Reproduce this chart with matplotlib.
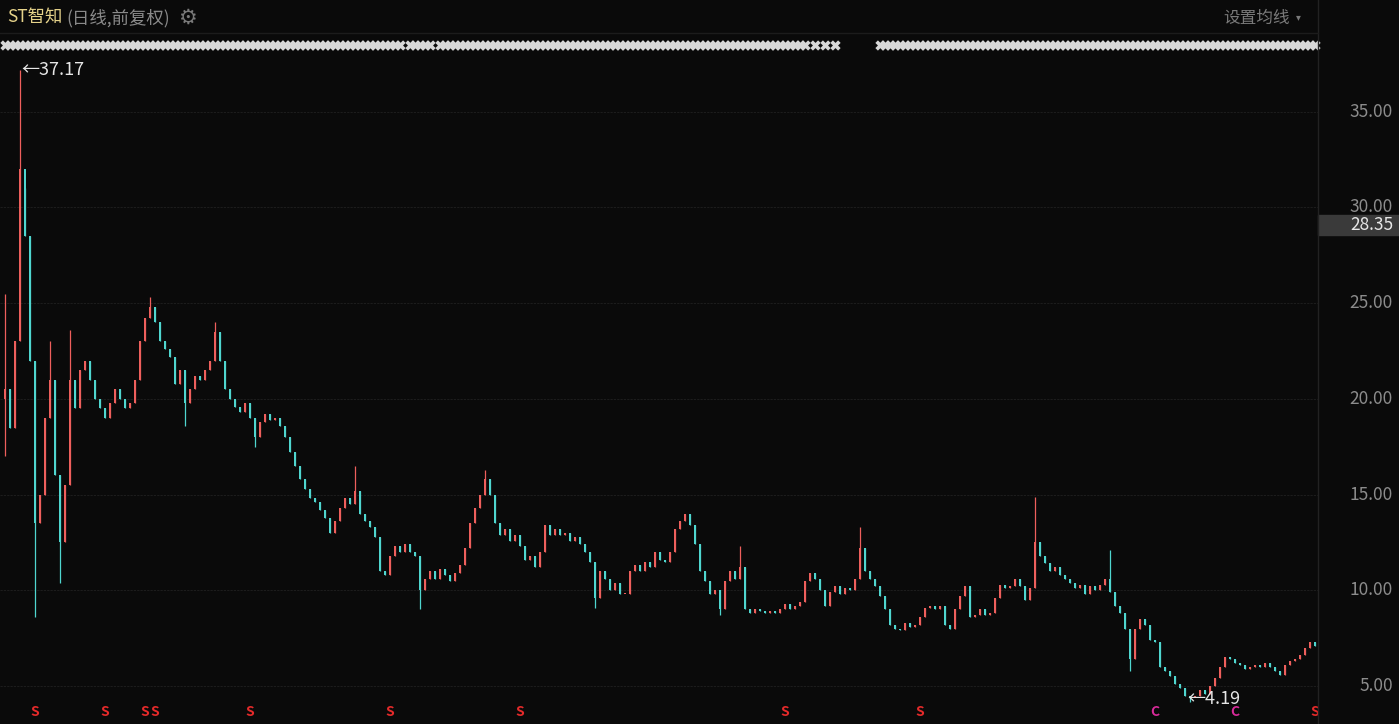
import numpy as np
import matplotlib
matplotlib.use('Agg')
import matplotlib.pyplot as plt
import matplotlib.transforms as mtransforms

plt.rcParams['font.family'] = ['Noto Sans CJK SC', 'DejaVu Sans']

# daily closes (one candle every few sessions)
closes = [
    20.5, 18.5, 23.0, 32.0, 28.5, 22.0, 13.5, 15.0, 19.0, 21.0,
    16.0, 12.5, 15.5, 21.0, 19.5, 21.5, 22.0, 21.0, 20.0, 19.5,
    19.0, 19.8, 20.5, 20.0, 19.5, 19.8, 21.0, 23.0, 24.2, 24.8,
    24.0, 23.0, 22.6, 22.2, 20.8, 21.5, 19.8, 20.5, 21.2, 21.0,
    21.5, 22.0, 23.5, 22.0, 20.5, 20.0, 19.6, 19.3, 19.8, 19.0,
    18.0, 18.8, 19.2, 18.9, 19.0, 18.6, 18.0, 17.2, 16.5, 15.8,
    15.3, 14.8, 14.6, 14.2, 13.8, 13.0, 13.6, 14.3, 14.8, 14.5,
    15.2, 14.0, 13.6, 13.3, 12.8, 11.0, 10.8, 11.8, 12.3, 12.0,
    12.4, 12.0, 11.8, 10.0, 10.6, 11.0, 10.6, 11.1, 10.8, 10.5,
    10.9, 11.3, 12.2, 13.5, 14.3, 15.0, 15.8, 15.0, 13.5, 12.9,
    13.2, 12.6, 12.9, 12.3, 11.6, 11.8, 11.2, 12.0, 13.4, 12.9,
    13.2, 12.9, 13.0, 12.6, 12.8, 12.4, 12.0, 11.5, 9.6, 11.0,
    10.6, 10.0, 10.4, 9.8, 9.8, 11.0, 11.3, 11.0, 11.5, 11.2,
    12.0, 11.6, 11.5, 12.0, 13.2, 13.6, 14.0, 13.4, 12.4, 11.0,
    10.5, 9.8, 10.0, 9.0, 10.5, 11.0, 10.6, 11.2, 9.0, 8.8,
    9.0, 8.9, 8.8, 8.9, 8.8, 9.0, 9.3, 9.0, 9.2, 9.4,
    10.5, 10.9, 10.6, 10.0, 9.2, 9.9, 10.2, 9.8, 10.1, 10.0,
    10.6, 12.2, 11.0, 10.6, 10.2, 9.7, 9.0, 8.2, 8.0, 7.9,
    8.3, 8.1, 8.2, 8.6, 9.1, 9.2, 9.0, 9.2, 8.2, 8.0,
    9.0, 9.7, 10.2, 8.6, 8.7, 9.0, 8.7, 8.8, 9.6, 10.3,
    10.1, 10.2, 10.6, 10.2, 9.5, 10.1, 12.5, 11.8, 11.4, 11.0,
    11.2, 10.8, 10.6, 10.4, 10.1, 10.3, 9.8, 10.2, 10.0, 10.3,
    10.6, 9.9, 9.2, 8.8, 8.0, 6.4, 8.0, 8.5, 8.2, 7.4,
    7.3, 6.0, 5.8, 5.5, 5.1, 4.9, 4.5, 4.4, 4.5, 4.8,
    4.6, 5.0, 5.4, 6.0, 6.5, 6.4, 6.2, 6.1, 5.9, 6.0,
    6.1, 6.0, 6.2, 6.0, 5.8, 5.6, 6.1, 6.3, 6.4, 6.6,
    7.0, 7.3, 7.1,
]
first_open = 20.0

# long shadows that stick out of the bodies
wick_highs = {0: 25.5, 3: 37.17, 4: 31.0, 9: 23.0, 13: 23.6, 29: 25.3,
              42: 24.0, 70: 16.5, 96: 16.3, 147: 12.3, 171: 13.3,
              206: 14.9, 221: 12.1}
wick_lows = {0: 17.0, 6: 8.6, 11: 10.4, 36: 18.6, 50: 17.5, 83: 9.0,
             118: 9.1, 143: 8.7, 225: 5.8, 237: 4.19}

# event markers
s_days = [6, 20, 28, 30, 49, 77, 103, 156, 183, 262]
c_days = [230, 246]
news_spans = [(0, 79), (81, 85), (87, 159), (160, 160), (162, 162),
              (164, 164), (166, 166), (175, 262)]

y_ticks = [5, 10, 15, 20, 25, 30, 35]
hover_price = 28.35

bg = '#0a0a0a'
up_color = '#ee5f5c'
down_color = '#4fd6cf'

fig = plt.figure(figsize=(13.99, 7.24), dpi=100, facecolor=bg)
ax = fig.add_axes([0, 0, 1318 / 1399, 689 / 724])
ax.set_facecolor(bg)

closes = np.array(closes)
opens = np.concatenate([[first_open], closes[:-1]])
idx = np.arange(len(closes))
highs = np.maximum(opens, closes)
lows = np.minimum(opens, closes)
for k, v in wick_highs.items():
    highs[k] = v
for k, v in wick_lows.items():
    lows[k] = v

colors = [up_color if c >= o else down_color for o, c in zip(opens, closes)]
ax.vlines(idx, lows, highs, colors=colors, linewidth=0.9, zorder=3)
body_bottom = np.minimum(opens, closes)
body_h = np.maximum(np.abs(closes - opens), 0.08)
ax.bar(idx, body_h, bottom=body_bottom, width=0.5, color=colors,
       linewidth=0, zorder=4)

ax.set_xlim(-1, 262.6)
ax.set_ylim(3.015, 39.01)
for t in y_ticks:
    ax.axhline(t, color='#1c1c1c', linewidth=0.8, linestyle=(0, (2, 1)), zorder=1)
for s in ax.spines.values():
    s.set_visible(False)
ax.set_xticks([])
ax.set_yticks([])

# right price scale
lab_tr = mtransforms.blended_transform_factory(ax.transAxes, ax.transData)
for t in y_ticks:
    ax.text(1393 / 1318, t, f'{t:.2f}', transform=lab_tr, ha='right',
            va='center', color='#8c8c8c', fontsize=12.5, clip_on=False)

# crosshair price tag (sits just under the 30.00 line)
tag_y = 0.7242
ax.add_patch(plt.Rectangle((1.0, tag_y - 10 / 689), 81 / 1318, 20 / 689,
                           transform=ax.transAxes, color='#3a3a3a',
                           clip_on=False, zorder=9))
ax.text(1393 / 1318, tag_y, f'{hover_price:.2f}', transform=ax.transAxes,
        ha='right', va='center', color='#e6e6e6', fontsize=12.5, clip_on=False,
        zorder=10)

# extreme price notes
hi_i = int(np.argmax(highs))
lo_i = int(np.argmin(lows))
ax.text(hi_i + 0.2, highs[hi_i], '\u2190' + f'{highs[hi_i]:.2f}',
        color='#e6e6e6', fontsize=13, ha='left', va='center', zorder=6)
ax.text(lo_i - 0.6, lows[lo_i] + 0.15, '\u2190' + f'{lows[lo_i]:.2f}',
        color='#e6e6e6', fontsize=13, ha='left', va='center', zorder=6)

# news marker row
row_tr = mtransforms.blended_transform_factory(ax.transData, ax.transAxes)
nx = [d for a, b in news_spans for d in range(a, b + 1)]
ax.scatter(nx, [0.9855] * len(nx), transform=row_tr, marker='X', s=55,
           color='#d8d8d8', linewidths=0, zorder=5, clip_on=False)

# bottom event letters
for d in s_days:
    ax.text(d, 0.017, 'S', transform=row_tr, color='#e52a2a', fontsize=10,
            fontweight='bold', ha='center', va='center')
for d in c_days:
    ax.text(d, 0.017, 'C', transform=row_tr, color='#d92a9a', fontsize=10,
            fontweight='bold', ha='center', va='center')

# separators
fig.add_artist(plt.Line2D([1318 / 1399] * 2, [0, 1], color='#222222', linewidth=1))
fig.add_artist(plt.Line2D([0, 1318 / 1399], [1 - 33 / 724] * 2, color='#1c1c1c',
                          linewidth=1))

# header
fig.text(7 / 1399, 1 - 18 / 724, 'ST智知', color='#e6d38a', fontsize=12.5,
         ha='left', va='center')
fig.text(66 / 1399, 1 - 18 / 724, '(日线,前复权)', color='#8a8a8a', fontsize=12.5,
         ha='left', va='center')
fig.text(187 / 1399, 1 - 18 / 724, '\u2699', color='#7a7a7a', fontsize=15,
         ha='center', va='center', family=['DejaVu Sans'])
fig.text(1290 / 1399, 1 - 18 / 724, '设置均线', color='#7a7a7a', fontsize=12,
         ha='right', va='center')
fig.text(1298 / 1399, 1 - 17 / 724, '\u25be', color='#7a7a7a', fontsize=7,
         ha='center', va='center', family=['DejaVu Sans'])

fig.savefig('out.png', dpi=100, facecolor=bg)
